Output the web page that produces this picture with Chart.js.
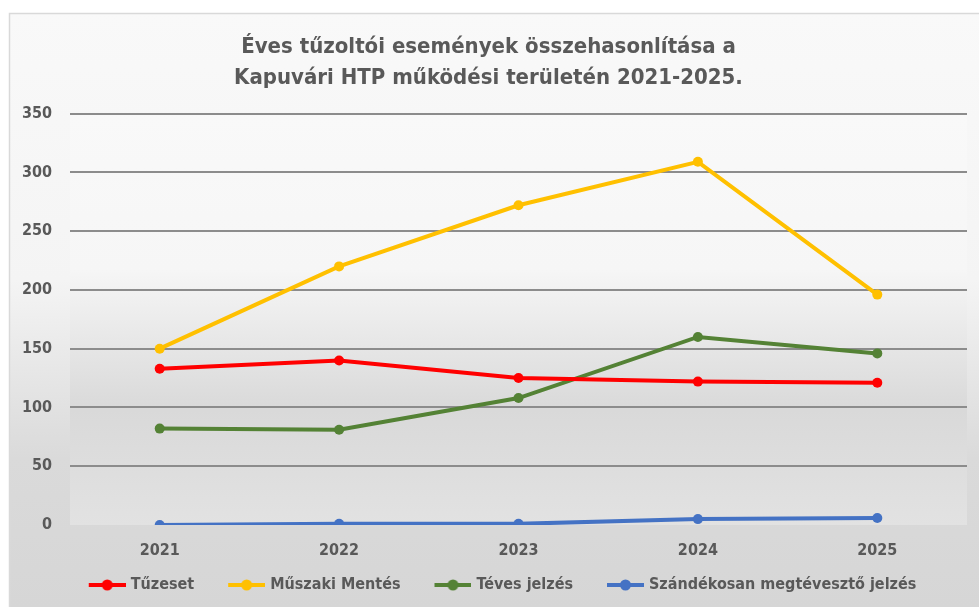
<!DOCTYPE html>
<html lang="hu">
<head>
  <meta charset="UTF-8" />
  <title>Éves tűzoltói események</title>
  <script src="https://cdn.jsdelivr.net/npm/chart.js@4.4.0/dist/chart.umd.min.js"></script>
  <style>
    * {
      margin: 0;
      padding: 0;
    }
    body {
      background: #ffffff;
    }
    .chartBox {
      width: 979px;
      height: 607px;
    }
  </style>
</head>
<body>
  <div class="chartBox">
    <canvas id="myChart"></canvas>
  </div>
  <script>
    const years = ["2021", "2022", "2023", "2024", "2025"];
    const tuzeset = [133, 140, 125, 122, 121];
    const muszakiMentes = [150, 220, 272, 309, 196];
    const tevesJelzes = [82, 81, 108, 160, 146];
    const szandekosJelzes = [0, 1, 1, 5, 6];
    const seriesNames = ["Tűzeset", "Műszaki Mentés", "Téves jelzés", "Szándékosan megtévesztő jelzés"];
    const seriesColors = ["#ff0000", "#ffc000", "#548235", "#4472c4"];
    const yTicks = [0, 50, 100, 150, 200, 250, 300, 350];

    const fontFamily = "'Liberation Sans Narrow', 'DejaVu Sans Condensed', Arial, sans-serif";
    const textColor = "#595959";

    // legend marker: blank lead-in, then a short line with a dot in the middle
    function legendMarker(color) {
      const c = document.createElement("canvas");
      c.width = 68;
      c.height = 12;
      const g = c.getContext("2d");
      g.strokeStyle = color;
      g.lineWidth = 4;
      g.beginPath();
      g.moveTo(31, 6);
      g.lineTo(68, 6);
      g.stroke();
      g.fillStyle = color;
      g.beginPath();
      g.arc(49.5, 6, 5.5, 0, Math.PI * 2);
      g.fill();
      return c;
    }

    const allValues = [tuzeset, muszakiMentes, tevesJelzes, szandekosJelzes];
    const datasets = allValues.map((vals, i) => ({
      label: seriesNames[i],
      data: vals,
      borderColor: seriesColors[i],
      backgroundColor: seriesColors[i],
      borderWidth: 4,
      pointRadius: 5,
      pointHoverRadius: 6,
      pointBorderWidth: 0,
      pointStyle: "circle",
      tension: 0,
    }));

    const markers = seriesColors.map(legendMarker);

    // frame + gradient backgrounds
    const backgroundPlugin = {
      id: "bg",
      beforeDraw(chart) {
        const ctx = chart.ctx;
        const a = chart.chartArea;
        ctx.save();
        let g = ctx.createLinearGradient(0, 13, 0, 607);
        g.addColorStop(0, "#f9f9f9");
        g.addColorStop(0.45, "#f4f4f4");
        g.addColorStop(0.75, "#dadada");
        g.addColorStop(1, "#d6d6d6");
        ctx.fillStyle = g;
        ctx.fillRect(10, 13, 979, 607);
        ctx.strokeStyle = "#d9d9d9";
        ctx.lineWidth = 1.5;
        ctx.strokeRect(9.5, 13.5, 990, 620);

        g = ctx.createLinearGradient(0, a.top, 0, a.bottom);
        g.addColorStop(0, "#f9f9f9");
        g.addColorStop(0.38, "#f6f6f6");
        g.addColorStop(0.72, "#d9d9d9");
        g.addColorStop(1, "#e2e2e2");
        ctx.fillStyle = g;
        ctx.fillRect(a.left, a.top, a.right - a.left, a.bottom - a.top);
        ctx.restore();
      },
    };

    const options = {
      responsive: true,
      maintainAspectRatio: false,
      animation: false,
      layout: {
        padding: { left: 10, right: 12, top: 13, bottom: 4 },
      },
      scales: {
        x: {
          offset: true,
          grid: { display: false, drawTicks: false },
          border: { display: false },
          afterFit(scale) {
            scale.height = 46;
          },
          ticks: {
            color: textColor,
            padding: 16,
            font: { family: fontFamily, size: 16, weight: "bold" },
          },
        },
        y: {
          min: 0,
          max: 350,
          afterBuildTicks(scale) {
            scale.ticks = yTicks.map((v) => ({ value: v }));
          },
          afterFit(scale) {
            scale.width = 60;
          },
          grid: {
            drawTicks: false,
            lineWidth: 2,
            color: (c) => (c.tick && c.tick.value === 0 ? "rgba(0,0,0,0)" : "#8c8c8c"),
          },
          border: { display: false },
          ticks: {
            color: textColor,
            padding: 18,
            font: { family: fontFamily, size: 16, weight: "bold" },
          },
        },
      },
      plugins: {
        title: {
          display: true,
          text: ["Éves tűzoltói események összehasonlítása a", "Kapuvári HTP működési területén 2021-2025."],
          color: textColor,
          font: { family: fontFamily, size: 22, weight: "bold", lineHeight: 1.4 },
          padding: { top: 19, bottom: 20 },
        },
        legend: {
          position: "bottom",
          labels: {
            usePointStyle: true,
            pointStyleWidth: 62,
            padding: 6,
            color: textColor,
            font: { family: fontFamily, size: 16, weight: "bold" },
            generateLabels(chart) {
              return chart.data.datasets.map((ds, i) => ({
                text: ds.label,
                fillStyle: ds.borderColor,
                strokeStyle: ds.borderColor,
                lineWidth: 0,
                pointStyle: markers[i],
                hidden: !chart.isDatasetVisible(i),
                datasetIndex: i,
                fontColor: textColor,
              }));
            },
          },
        },
        tooltip: { enabled: true },
      },
    };

    const ctx = document.getElementById("myChart").getContext("2d");
    const myChart = new Chart(ctx, {
      type: "line",
      data: { labels: years, datasets: datasets },
      options: options,
      plugins: [backgroundPlugin],
    });
  </script>
</body>
</html>
